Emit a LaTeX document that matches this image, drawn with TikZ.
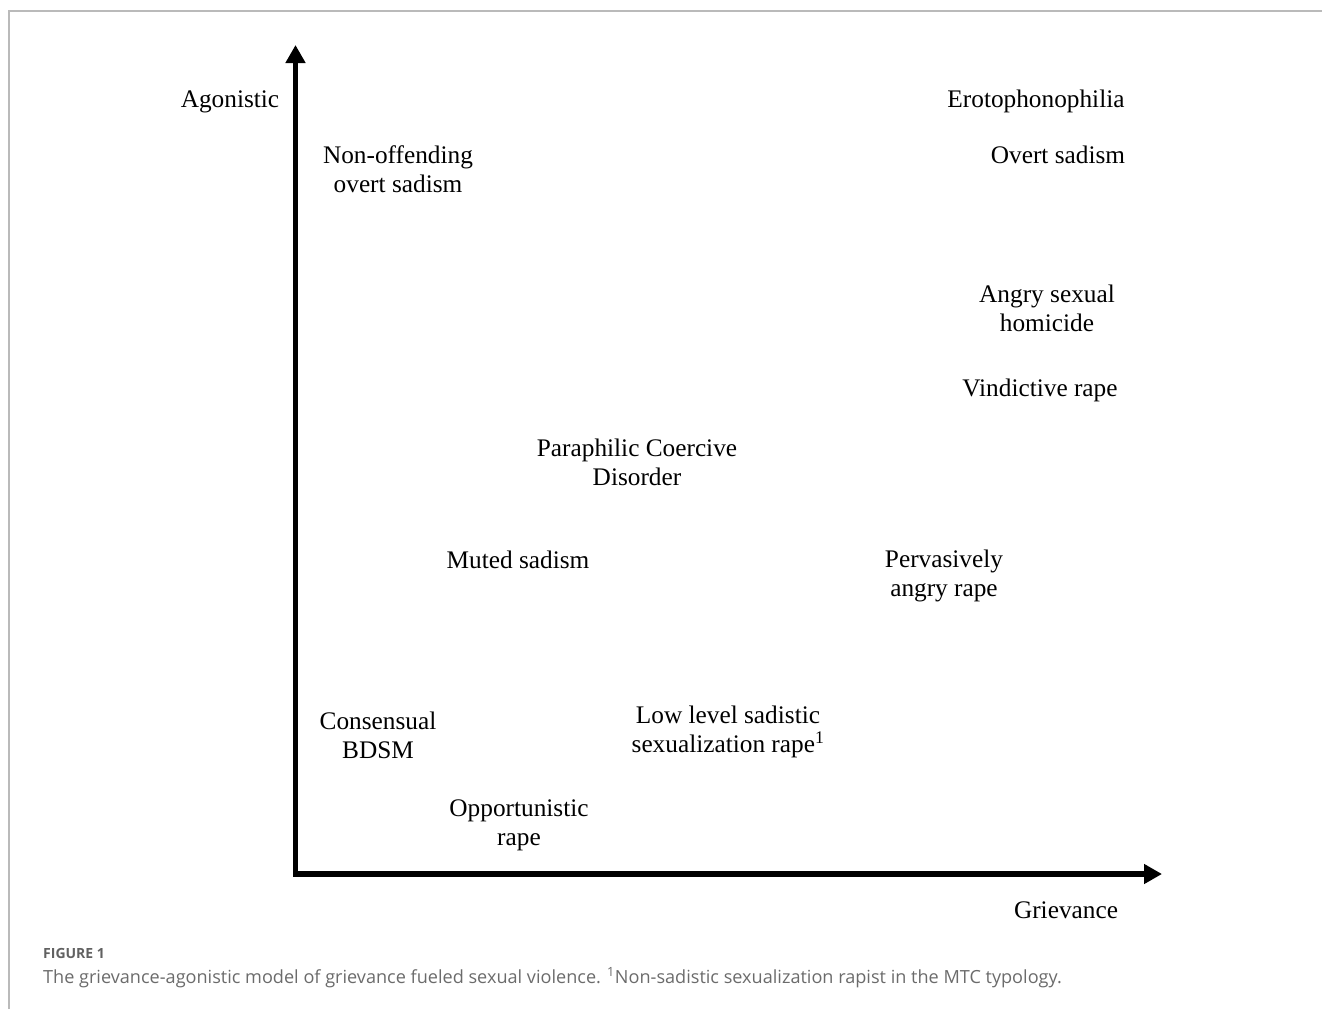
\documentclass[tikz,border=0pt]{standalone}
\usepackage{fontspec}
\setmainfont{Liberation Serif}
\newfontfamily\capfont{Open Sans}
\usetikzlibrary{arrows.meta}
\begin{document}
\begin{tikzpicture}[x=1pt,y=-1pt,
  lbl/.style={font=\fontsize{25.3}{29}\selectfont, inner sep=0pt, align=center},
  axisline/.style={line width=5.5pt, line join=miter,
    {Triangle[length=18pt,width=19pt]}-{Triangle[length=18pt,width=19pt]}},
  frameline/.style={draw=black!27, line width=1.5pt},
  figlbl/.style={font=\capfont\bfseries\fontsize{14}{16}\selectfont, text=black!62, inner sep=0pt},
  captxt/.style={font=\capfont\fontsize{18.1}{21}\selectfont, text=black!58, inner sep=0pt}]
\useasboundingbox (0,0) rectangle (1322,1009);

% page frame (left and top rules)
\draw[frameline] (9,1009) -- (9,11) -- (1322,11);

% axes
\coordinate (O) at (295.5,874);
\coordinate (ytip) at (295.5,45);
\coordinate (xtip) at (1162,874);
\draw[axisline] (ytip) -- (O) -- (xtip);

% axis titles
\node[lbl, anchor=base] (agon) at (230,107) {Agonistic};
\node[lbl, anchor=base] (griev) at (1066,918) {Grievance};

% offender categories
\node[lbl, anchor=base] (eroto) at (1036,107) {Erotophonophilia};
\node[lbl, anchor=base] (overt) at (1058,163) {Overt sadism};
\node[lbl] (nonoff) at (398,169.5) {Non-offending\\overt sadism};
\node[lbl] (angry) at (1047,308.5) {Angry sexual\\homicide};
\node[lbl, anchor=base] (vind) at (1040,396) {Vindictive rape};
\node[lbl] (pcd) at (637,462) {Paraphilic Coercive\\Disorder};
\node[lbl, anchor=base] (muted) at (518,568) {Muted sadism};
\node[lbl] (perv) at (944,575.5) {Pervasively\\angry rape};
\node[lbl] (bdsm) at (378,735.5) {Consensual\\BDSM};
\node[lbl] (lowlvl) at (728,732) {Low level sadistic\\sexualization rape\textsuperscript{1}};
\node[lbl] (opport) at (519,825.5) {Opportunistic\\rape};

% caption
\node[figlbl, anchor=base west] (figno) at (43,958) {FIGURE 1};
\node[captxt, anchor=base west] (caption) at (43,983) {The grievance-agonistic model of grievance fueled sexual violence. \textsuperscript{1}Non-sadistic sexualization rapist in the MTC typology.};
\end{tikzpicture}
\end{document}
